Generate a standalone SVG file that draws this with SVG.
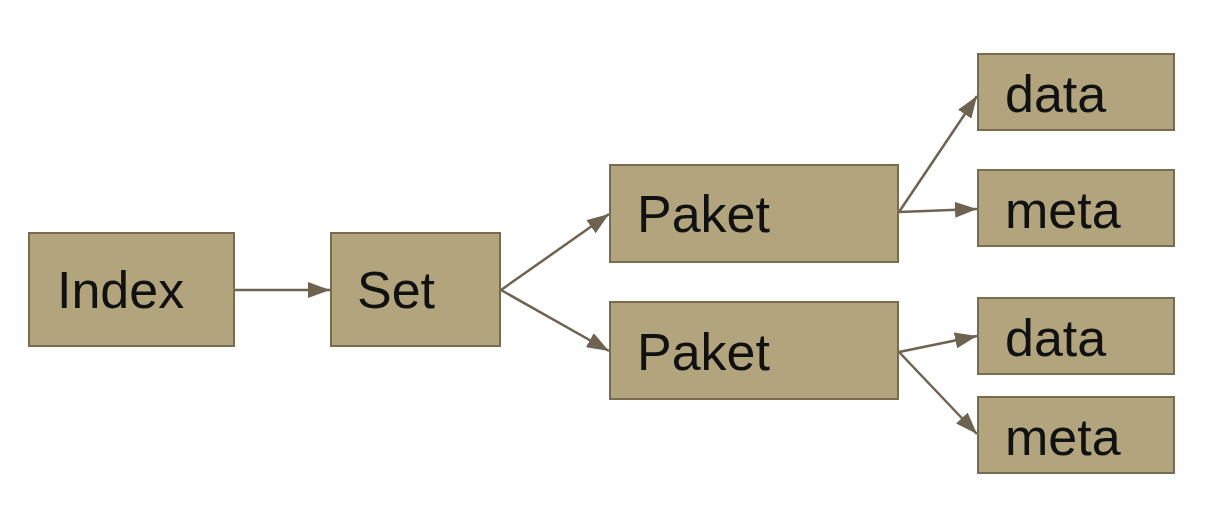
<svg xmlns="http://www.w3.org/2000/svg" width="1214" height="520" viewBox="0 0 1214 520">
<style>
.box{fill:#b2a57d;stroke:#786c50;stroke-width:2}
.lbl{font-family:"Liberation Sans",Arial,sans-serif;font-size:52px;fill:#111}
.edge{stroke:#6e6350;stroke-width:2.5;fill:none;marker-end:url(#ah)}
</style>
<defs>
<marker id="ah" viewBox="0 0 22 16" refX="22" refY="8" markerWidth="22" markerHeight="16" markerUnits="userSpaceOnUse" orient="auto">
<path d="M0,0 L22,8 L0,16 Z" fill="#6e6350"/>
</marker>
</defs>
<rect width="1214" height="520" fill="#fff"/>
<g id="connectors">
<line class="edge" x1="234" y1="290" x2="330" y2="290"/>
<line class="edge" x1="501" y1="290" x2="609" y2="214"/>
<line class="edge" x1="501" y1="290" x2="609" y2="351"/>
<line class="edge" x1="899" y1="212" x2="977" y2="96"/>
<line class="edge" x1="899" y1="212" x2="977" y2="209"/>
<line class="edge" x1="899" y1="352" x2="977" y2="336"/>
<line class="edge" x1="899" y1="352" x2="977" y2="434"/>
</g>
<g id="index"><rect class="box" x="29" y="233" width="205" height="113"/><text class="lbl" x="57" y="308">Index</text></g>
<g id="set"><rect class="box" x="331" y="233" width="169" height="113"/><text class="lbl" x="357" y="308">Set</text></g>
<g id="paket1"><rect class="box" x="610" y="165" width="288" height="97"/><text class="lbl" x="637" y="232">Paket</text></g>
<g id="paket2"><rect class="box" x="610" y="302" width="288" height="97"/><text class="lbl" x="637" y="370">Paket</text></g>
<g id="data1"><rect class="box" x="978" y="54" width="196" height="76"/><text class="lbl" x="1005" y="112">data</text></g>
<g id="meta1"><rect class="box" x="978" y="170" width="196" height="76"/><text class="lbl" x="1005" y="228">meta</text></g>
<g id="data2"><rect class="box" x="978" y="298" width="196" height="76"/><text class="lbl" x="1005" y="356">data</text></g>
<g id="meta2"><rect class="box" x="978" y="397" width="196" height="76"/><text class="lbl" x="1005" y="455">meta</text></g>
</svg>
